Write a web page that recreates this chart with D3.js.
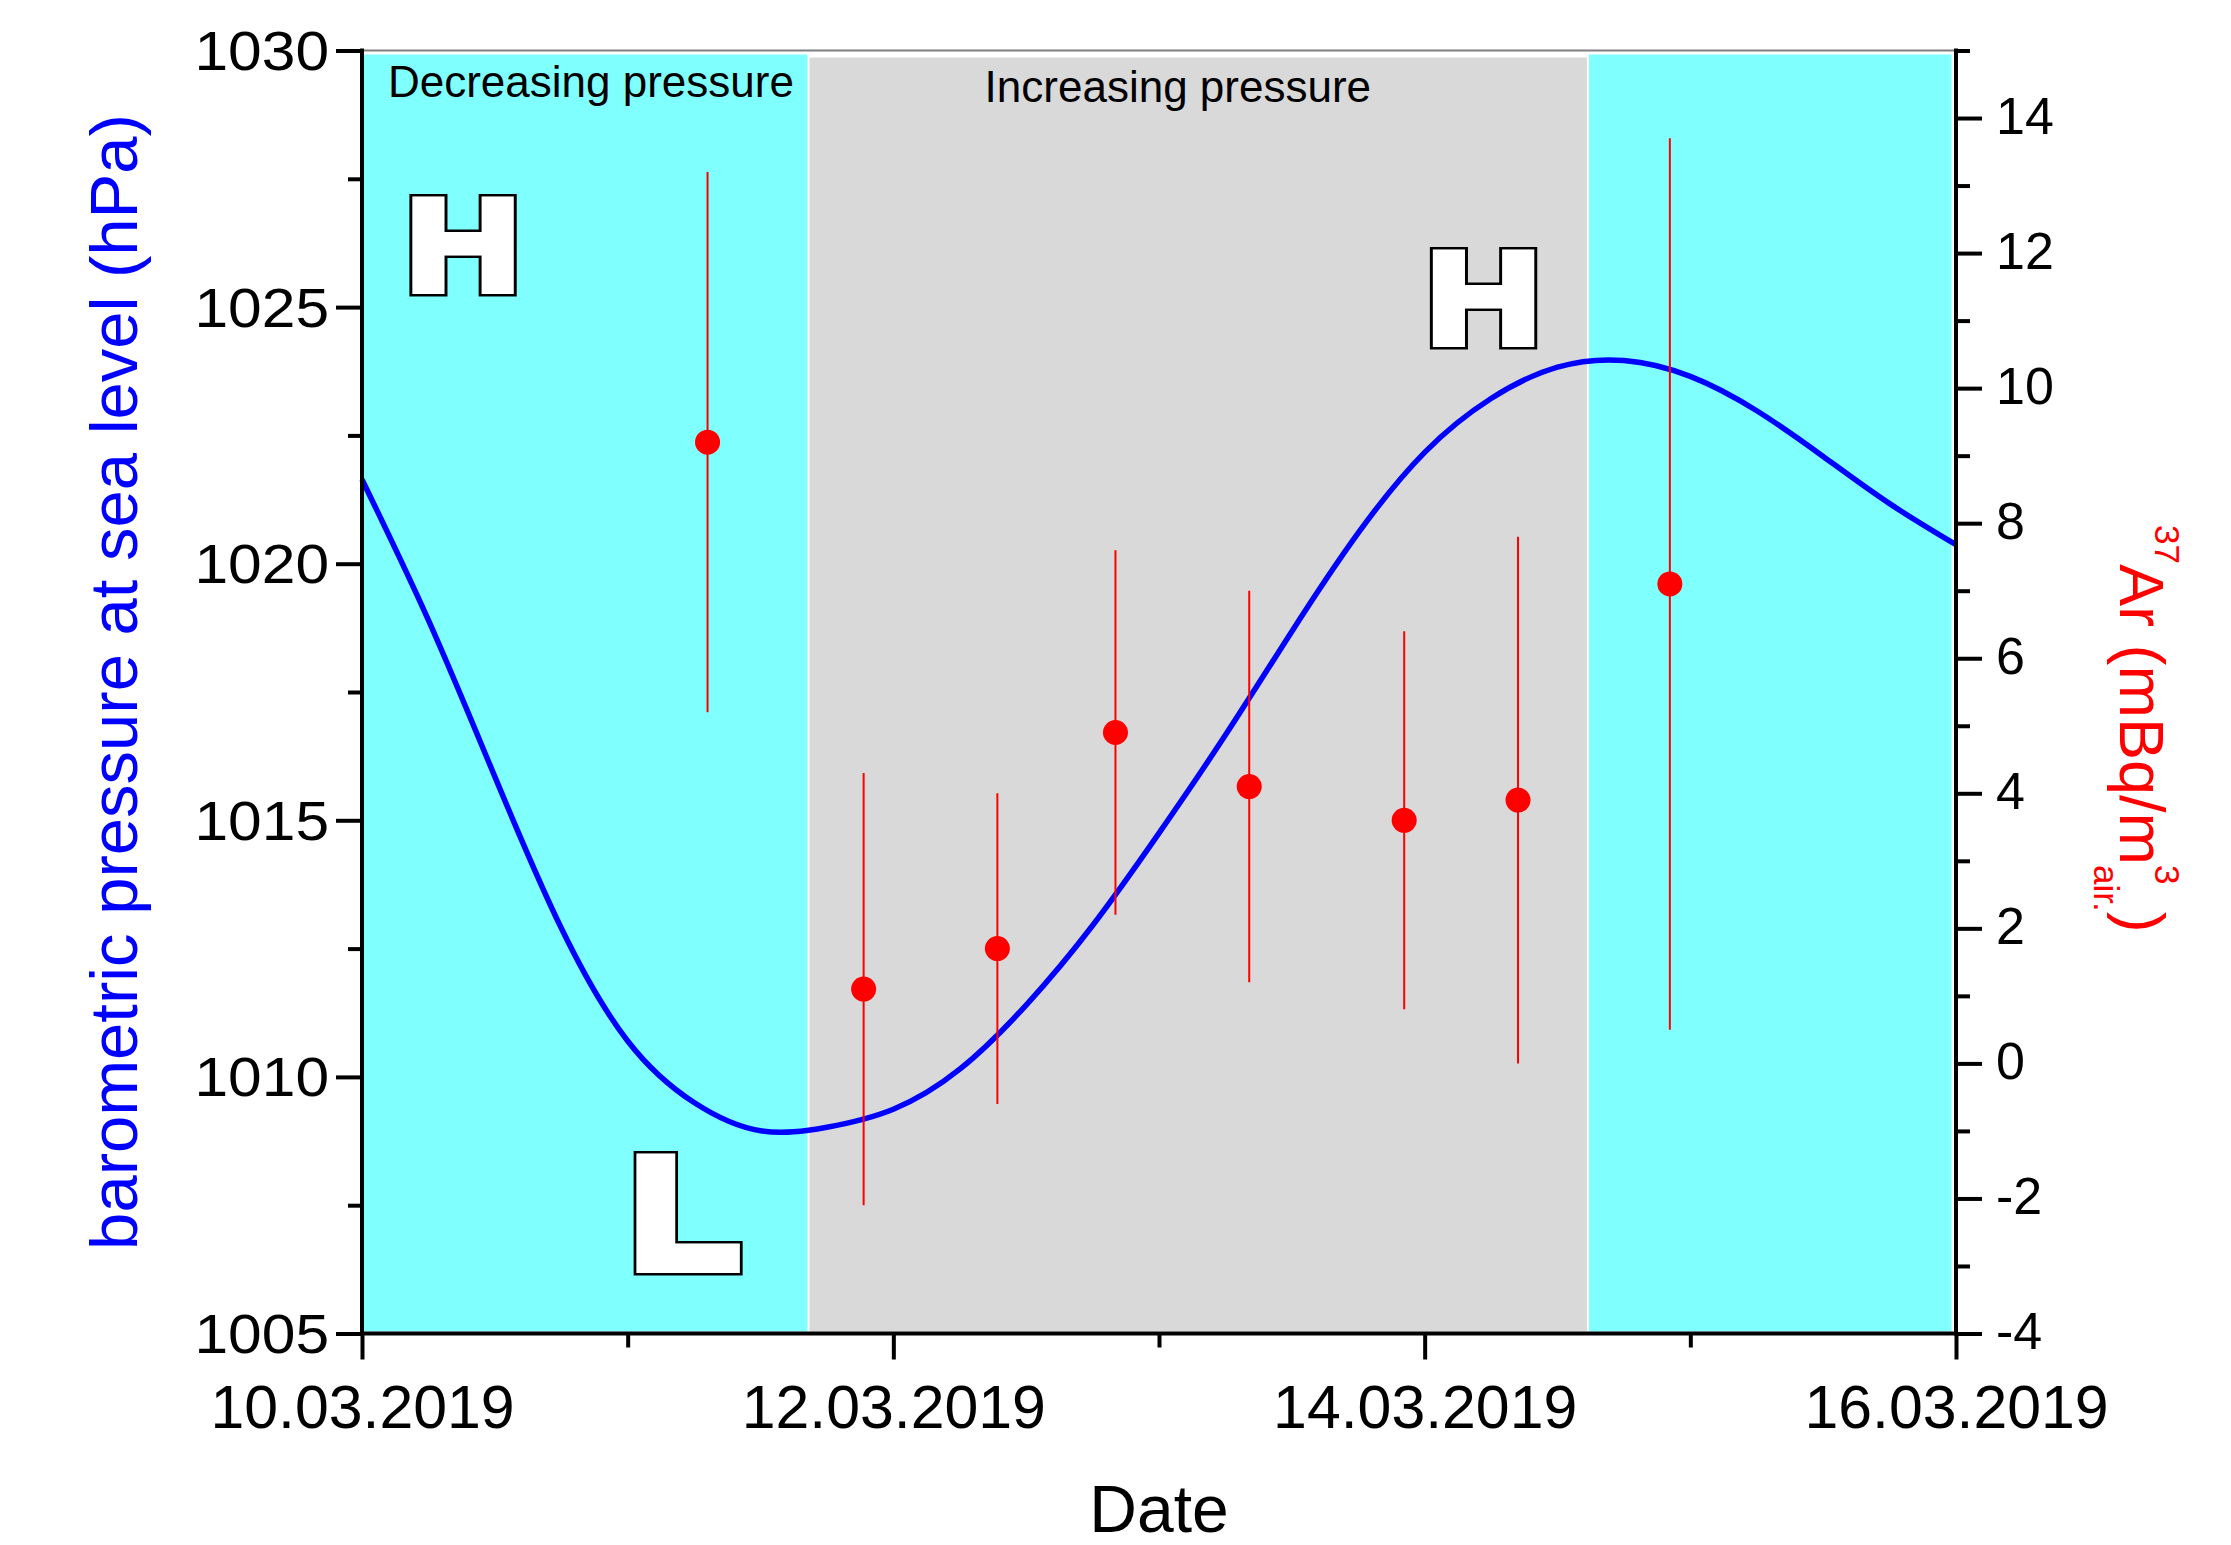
<!DOCTYPE html>
<html>
<head>
<meta charset="utf-8">
<script src="https://cdn.jsdelivr.net/npm/d3@7"></script>
<style>
  html, body { margin: 0; padding: 0; background: #ffffff; }
  svg { display: block; }
</style>
</head>
<body>
<svg id="chart" width="2231" height="1545"></svg>
<script>
// ---------------- DATA ----------------
// Barometric pressure at sea level (hPa), sampled every 6 hours
const pressureTimes = [
  "2019-03-10T00:00", "2019-03-10T06:00", "2019-03-10T12:00", "2019-03-10T18:00",
  "2019-03-11T00:00", "2019-03-11T06:00", "2019-03-11T12:00", "2019-03-11T18:00",
  "2019-03-12T00:00", "2019-03-12T06:00", "2019-03-12T12:00", "2019-03-12T18:00",
  "2019-03-13T00:00", "2019-03-13T06:00", "2019-03-13T12:00", "2019-03-13T18:00",
  "2019-03-14T00:00", "2019-03-14T06:00", "2019-03-14T12:00", "2019-03-14T18:00",
  "2019-03-15T00:00", "2019-03-15T06:00", "2019-03-15T12:00", "2019-03-15T18:00",
  "2019-03-16T00:00"
];
const pressureValues = [
  1021.64, 1018.90, 1015.85, 1012.90,
  1010.70, 1009.50, 1008.95, 1009.02,
  1009.37, 1010.15, 1011.40, 1012.95,
  1014.75, 1016.66, 1018.68, 1020.60,
  1022.17, 1023.22, 1023.83, 1023.96,
  1023.65, 1022.98, 1022.09, 1021.17,
  1020.37
];

// 37Ar activity concentration (mBq/m3 air) with uncertainties
const arTimes = [
  "2019-03-11T07:13", "2019-03-11T21:19", "2019-03-12T09:24", "2019-03-12T20:04",
  "2019-03-13T08:09", "2019-03-13T22:09", "2019-03-14T08:26", "2019-03-14T22:09"
];
const arValues = [9.2, 1.1, 1.7, 4.9, 4.1, 3.6, 3.9, 7.1];
const arErrors = [4.0, 3.2, 2.3, 2.7, 2.9, 2.8, 3.9, 6.6];

// Pressure phases (shaded regions)
const phaseBounds = ["2019-03-10T00:00", "2019-03-11T16:20", "2019-03-14T14:45", "2019-03-16T00:00"];
const phaseKinds  = ["decreasing", "increasing", "decreasing"];
const phaseLabels = ["Decreasing pressure", "Increasing pressure", ""];

// Axis ticks
const xTickDates   = ["2019-03-10T00:00", "2019-03-12T00:00", "2019-03-14T00:00", "2019-03-16T00:00"];
const xMinorDates  = ["2019-03-11T00:00", "2019-03-13T00:00", "2019-03-15T00:00"];
const leftTicks    = [1005, 1010, 1015, 1020, 1025, 1030];
const leftMinor    = [1007.5, 1012.5, 1017.5, 1022.5, 1027.5];
const rightTicks   = [-4, -2, 0, 2, 4, 6, 8, 10, 12, 14];
const rightMinor   = [-3, -1, 1, 3, 5, 7, 9, 11, 13, 15];

// ---------------- SETUP ----------------
const parse = d3.utcParse("%Y-%m-%dT%H:%M");
const fmt = d3.utcFormat("%d.%m.%Y");
const FONT = "'Liberation Sans', Arial, Helvetica, sans-serif";

const M = { left: 362, right: 1956, top: 50.5, bottom: 1333.5 };
const svg = d3.select("#chart");
svg.append("rect").attr("width", 2231).attr("height", 1545).attr("fill", "#ffffff");

const x = d3.scaleUtc()
  .domain([parse("2019-03-10T00:00"), parse("2019-03-16T00:00")])
  .range([M.left, M.right]);
const yL = d3.scaleLinear().domain([1005, 1030]).range([M.bottom, M.top]);
const yR = d3.scaleLinear().domain([-4, 15]).range([M.bottom, M.top]);

// ---------------- BACKGROUND REGIONS ----------------
const phaseStyle = {
  decreasing: { fill: "#80FFFF", top: M.top + 4 },
  increasing: { fill: "#D9D9D9", top: M.top + 7 }
};
phaseKinds.forEach((k, i) => {
  const x0 = Math.max(x(parse(phaseBounds[i])) + 1, M.left + 2);
  const x1 = Math.min(x(parse(phaseBounds[i + 1])) - 1, M.right - 4.5);
  const st = phaseStyle[k];
  svg.append("rect")
    .attr("x", x0).attr("y", st.top)
    .attr("width", x1 - x0).attr("height", M.bottom - 2 - st.top)
    .attr("fill", st.fill);
});

// top frame line
svg.append("line")
  .attr("x1", M.left).attr("x2", M.right)
  .attr("y1", M.top).attr("y2", M.top)
  .attr("stroke", "#7f7f7f").attr("stroke-width", 2);

// phase labels
const phaseLabelPos = [
  { t: "2019-03-10T20:41", p: 1029.10 },
  { t: "2019-03-13T01:42", p: 1028.99 }
];
phaseLabelPos.forEach((pos, i) => {
  svg.append("text")
    .attr("x", x(parse(pos.t))).attr("y", yL(pos.p))
    .attr("text-anchor", "middle")
    .attr("font-family", FONT).attr("font-size", 44)
    .attr("fill", "#000").text(phaseLabels[i]);
});

// ---------------- H / L SYMBOLS ----------------
function blockLetter(ch, cx, baseline, fs, e, sx) {
  const g = svg.append("g").attr("transform", `translate(${cx},${baseline}) scale(${sx},1)`);
  g.append("text").text(ch)
    .attr("text-anchor", "middle").attr("font-family", FONT).attr("font-weight", "bold")
    .attr("font-size", fs).attr("fill", "#000").attr("stroke", "#000")
    .attr("stroke-width", 2 * e + 5).attr("stroke-linejoin", "miter").attr("stroke-miterlimit", 10);
  g.append("text").text(ch)
    .attr("text-anchor", "middle").attr("font-family", FONT).attr("font-weight", "bold")
    .attr("font-size", fs).attr("fill", "#fff").attr("stroke", "#fff")
    .attr("stroke-width", 2 * e).attr("stroke-linejoin", "miter").attr("stroke-miterlimit", 10);
}
blockLetter("H", 463, 289.5, 130, 4, 1.2);
blockLetter("H", 1483.5, 342.5, 130, 4, 1.2);
blockLetter("L", 685, 1266.5, 155, 6, 1.13);

// ---------------- PRESSURE CURVE ----------------
const pData = pressureTimes.map((t, i) => ({ t: parse(t), v: pressureValues[i] }));
svg.append("path")
  .datum(pData)
  .attr("fill", "none").attr("stroke", "#0000FF").attr("stroke-width", 5.5)
  .attr("stroke-linejoin", "round")
  .attr("d", d3.line().x(d => x(d.t)).y(d => yL(d.v)).curve(d3.curveNatural));

// ---------------- 37Ar POINTS ----------------
const aData = arTimes.map((t, i) => ({ t: parse(t), v: arValues[i], e: arErrors[i] }));
svg.append("g").selectAll("line").data(aData).join("line")
  .attr("x1", d => x(d.t)).attr("x2", d => x(d.t))
  .attr("y1", d => yR(d.v - d.e)).attr("y2", d => yR(d.v + d.e))
  .attr("stroke", "#FF0000").attr("stroke-width", 2);
svg.append("g").selectAll("circle").data(aData).join("circle")
  .attr("cx", d => x(d.t)).attr("cy", d => yR(d.v))
  .attr("r", 12.5).attr("fill", "#FF0000");

// ---------------- AXES ----------------
function fitText(sel, k) {
  sel.each(function () {
    const w = this.getComputedTextLength();
    d3.select(this).attr("textLength", w * k).attr("lengthAdjust", "spacingAndGlyphs");
  });
}
function styleTicks(g) {
  g.select(".domain").remove();
  g.selectAll(".tick line").attr("stroke", "#000").attr("stroke-width", 4);
  g.selectAll(".tick text").attr("fill", "#000");
}
const hyphenInt = d => String(Math.round(d));

// left
const gLmin = svg.append("g").attr("transform", `translate(${M.left},0)`)
  .call(d3.axisLeft(yL).tickValues(leftMinor).tickSize(14).tickFormat(() => ""));
styleTicks(gLmin);
const gL = svg.append("g").attr("transform", `translate(${M.left},0)`)
  .call(d3.axisLeft(yL).tickValues(leftTicks).tickSize(26).tickPadding(7).tickFormat(hyphenInt));
gL.attr("font-size", 56).attr("font-family", FONT);
styleTicks(gL);
gL.selectAll(".tick text").attr("dy", "0.34em");
fitText(gL.selectAll(".tick text"), 1.08);

// right
const gRmin = svg.append("g").attr("transform", `translate(${M.right},0)`)
  .call(d3.axisRight(yR).tickValues(rightMinor).tickSize(14).tickFormat(() => ""));
styleTicks(gRmin);
const gR = svg.append("g").attr("transform", `translate(${M.right},0)`)
  .call(d3.axisRight(yR).tickValues(rightTicks).tickSize(26).tickPadding(14).tickFormat(hyphenInt));
gR.attr("font-size", 51).attr("font-family", FONT);
styleTicks(gR);
gR.selectAll(".tick text").attr("dy", "0.3em");
fitText(gR.selectAll(".tick text"), 1.02);

// bottom
const gBmin = svg.append("g").attr("transform", `translate(0,${M.bottom})`)
  .call(d3.axisBottom(x).tickValues(xMinorDates.map(parse)).tickSize(14).tickFormat(() => ""));
styleTicks(gBmin);
const gB = svg.append("g").attr("transform", `translate(0,${M.bottom})`)
  .call(d3.axisBottom(x).tickValues(xTickDates.map(parse)).tickSize(26).tickPadding(24).tickFormat(fmt));
gB.attr("font-size", 62).attr("font-family", FONT);
styleTicks(gB);
fitText(gB.selectAll(".tick text"), 0.98);

// axis lines
const axisLines = [
  [M.left, M.top, M.left, M.bottom],
  [M.right, M.top, M.right, M.bottom],
  [M.left, M.bottom, M.right, M.bottom]
];
axisLines.forEach(([x1, y1, x2, y2]) => {
  svg.append("line").attr("x1", x1).attr("y1", y1).attr("x2", x2).attr("y2", y2)
    .attr("stroke", "#000").attr("stroke-width", 4).attr("stroke-linecap", "square");
});

// ---------------- AXIS TITLES ----------------
svg.append("text")
  .attr("transform", `translate(137,${(M.top + M.bottom) / 2 - 10}) rotate(-90)`)
  .attr("text-anchor", "middle")
  .attr("font-family", FONT).attr("font-size", 67)
  .attr("fill", "#0000FF")
  .text("barometric pressure at sea level (hPa)");

const rt = svg.append("text")
  .attr("transform", "translate(2120,525) rotate(90)")
  .attr("font-family", FONT).attr("font-size", 63)
  .attr("fill", "#FF0000");
rt.append("tspan").attr("font-size", 35).attr("dy", -35).text("37");
rt.append("tspan").attr("dy", 35).text("Ar (mBq/m");
rt.append("tspan").attr("font-size", 35).attr("dy", -35).text("3");
rt.append("tspan").attr("font-size", 35).attr("dx", -19.5).attr("dy", 61).text("air.");
rt.append("tspan").attr("dy", -26).text(")");

svg.append("text")
  .attr("x", (M.left + M.right) / 2).attr("y", 1532)
  .attr("text-anchor", "middle")
  .attr("font-family", FONT).attr("font-size", 66)
  .attr("fill", "#000").text("Date");
</script>
</body>
</html>
